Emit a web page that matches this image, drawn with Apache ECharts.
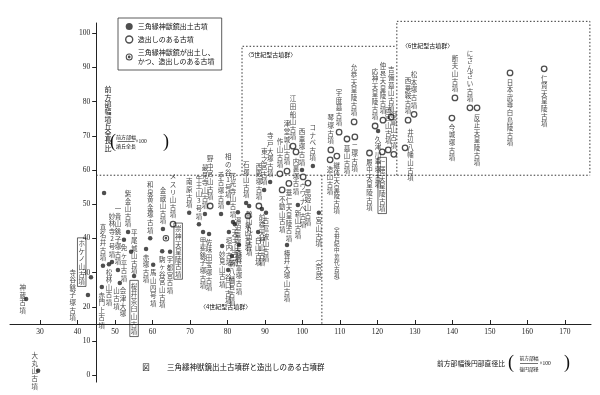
<!DOCTYPE html>
<html><head><meta charset="utf-8">
<script src="https://cdn.jsdelivr.net/npm/echarts@6/dist/echarts.min.js"></script>
<style>html,body{margin:0;padding:0;background:#fff}#c{width:600px;height:395px}</style>
</head><body><div id="c"></div>
<script>
// ---------- data ----------
const xTicks = [30,40,50,60,70,80,90,100,110,120,130,140,150,160,170];
const yTicks = [0,10,20,30,40,50,60,70,80,90,100];

// 三角縁神獣鏡出土古墳 (filled)
const mirrorNames = ['神蔵古墳','大丸山古墳','寺谷銚子塚古墳','ホケノ山古墳','','赤門上古墳','真名井古墳','松林山古墳','妙林寺2号墳','一貴山銚子塚古墳','会津大塚山古墳','免ヶ平古墳','紫金山古墳','平尾城山古墳','桜井茶臼山古墳','赤塚古墳','和泉黄金塚古墳','馬山四号墳','駒ヶ谷宮山古墳','金蔵山古墳','宇都宮古墳','南原古墳','午王山3号墳','甲斐銚子塚古墳','最見寺山古墳','佐味田宝塚古墳','手古塚古墳','妙見山古墳','相の谷1号墳','谷口古墳','垣内古墳','新八幡宮古墳','花光寺山古墳','天王山古墳','湯迫車塚古墳','森将軍塚古墳','石塚山古墳','鶴山丸山古墳','白山古墳','前橋天神山古墳','東之宮古墳','古富波山古墳','寺戸大塚古墳','椿井大塚山古墳','新山古墳','西車塚古墳','コナベ古墳','宮山古墳','久津川車塚古墳'];
const mirrorX = [26.3,29.5,42.8,43.6,47.1,46.5,46.8,48.4,49.2,50.8,51.3,52.4,53.5,54.3,55.1,58.3,59.4,60.2,62.6,62.8,64.7,69.8,72.4,73.5,74.0,75.1,78.3,78.6,80.2,80.2,80.4,81.2,81.5,82.0,82.8,83.1,85.0,85.8,88.2,89.2,89.8,90.3,91.4,95.9,98.8,99.9,102.8,104.4,120.2];
const mirrorY = [22.3,1.3,23.5,28.7,53.3,25.8,32.0,32.5,33.1,30.8,27.0,39.6,41.9,36.1,29.0,36.9,40.1,32.3,36.3,42.8,36.1,47.5,44.2,41.9,47.2,41.3,47.2,37.8,50.4,30.8,41.9,34.9,44.8,44.2,47.7,38.1,50.4,49.5,41.9,48.6,54.2,47.5,56.5,38.1,49.8,60.0,61.2,47.5,71.4];

// 造出しのある古墳 (hollow)
const platformNames = ['メスリ山古墳','野中宮山古墳','泉山古墳','西殿塚古墳','作山古墳','不動山古墳','津堂城山古墳','垂仁天皇陵古墳','江田船山古墳','内裏塚古墳','ウワナベ古墳','黒姫山古墳','造山古墳','琴塚古墳','継体天皇陵古墳','宇度墓古墳','墓山古墳','允恭天皇陵古墳','二塚古墳','履中天皇陵古墳','応神天皇陵古墳','仁徳天皇陵古墳','仲哀天皇陵古墳','両宮山古墳','御廟山古墳','吉備墓山古墳','井辺八幡山古墳','西乗鞍古墳','松本塚古墳','今城塚古墳','断夫山古墳','にさんざい古墳','反正天皇陵古墳','日本武尊白鳥陵古墳','仁賢天皇陵古墳'];
const platformX = [65.5,75.4,85.5,88.4,94.0,94.6,95.9,96.4,97.5,98.3,100.2,101.5,107.4,107.6,109.2,109.8,111.9,113.8,114.0,117.9,119.4,121.3,121.5,122.9,124.4,123.7,127.4,128.2,129.8,139.9,140.7,144.7,146.6,155.4,164.5];
const platformY = [44.2,49.5,46.6,49.5,58.9,54.2,59.7,56.1,67.0,65.3,58.0,56.2,63.0,65.9,64.1,71.1,69.1,74.1,69.7,65.0,72.9,65.3,74.6,65.9,64.6,75.5,66.5,74.6,76.3,75.2,81.1,78.2,78.2,88.4,89.6];

// 三角縁神獣鏡が出土し、かつ、造出しのある古墳
const bothNames = ['崇神天皇陵古墳'];
const bothX = [63.6];
const bothY = [40.1];

// dotted group boundaries
const era4TopLine = [[45,58.5],[176.7,58.5]];
const era4RightLine = [[105.2,58.5],[105.2,15]];
const era5Box = [[83.9,58.5],[83.9,96.2],[125.2,96.2]];
const era6Box = [[125.2,58.5],[125.2,103.5],[176.7,103.5],[176.7,58.5]];

const seriesNames = ['三角縁神獣鏡出土古墳','造出しのある古墳','三角縁神獣鏡が出土し、かつ、造出しのある古墳'];

// ---------- label layout ----------
const belowNames = ['赤門上古墳','松林山古墳','会津大塚山古墳','免ヶ平古墳','桜井茶臼山古墳','赤塚古墳','馬山四号墳','駒ヶ谷宮山古墳','宇都宮古墳','甲斐銚子塚古墳','佐味田宝塚古墳','妙見山古墳','谷口古墳','垣内古墳','新八幡宮古墳','天王山古墳','湯迫車塚古墳','森将軍塚古墳','鶴山丸山古墳','白山古墳','前橋天神山古墳','古富波山古墳','椿井大塚山古墳','新山古墳','宮山古墳','久津川車塚古墳','泉山古墳','不動山古墳','垂仁天皇陵古墳','内裏塚古墳','ウワナベ古墳','黒姫山古墳','造山古墳','継体天皇陵古墳','墓山古墳','二塚古墳','履中天皇陵古墳','仁徳天皇陵古墳','今城塚古墳','反正天皇陵古墳','日本武尊白鳥陵古墳','仁賢天皇陵古墳'];
const leftNames = ['神蔵古墳','大丸山古墳','寺谷銚子塚古墳','ホケノ山古墳'];
const rightNames = ['平尾城山古墳','崇神天皇陵古墳','井辺八幡山古墳'];
const boxedNames = ['ホケノ山古墳','桜井茶臼山古墳','崇神天皇陵古墳','仁徳天皇陵古墳'];
const labelTweak = {
  '寺谷銚子塚古墳': {distance: 13},
  'ホケノ山古墳': {distance: 7, offset: [0,-15]},
  '崇神天皇陵古墳': {distance: 9, offset: [0,13]},
  '井辺八幡山古墳': {offset: [0,7]},
  '平尾城山古墳': {distance: 1},
  '神蔵古墳': {distance: 1},
  '大丸山古墳': {distance: 1}
};

function vert(s){ return Array.from(s).join('\n'); }
const specialText = {
  '会津大塚山古墳': '山会\n古津\n墳大\n　塚',
  '宮山古墳': vert('宮山古墳') + '\n\n' + vert('︵奈良︶'),
  '継体天皇陵古墳': vert('継体天皇陵古墳') + '\n\n' + Array.from('︵五世紀中葉代古墳︶').map(c => '{n|' + c + '}').join('\n')
};

const CJK = '"Noto Sans CJK JP"';
const INK = '#111';
function labelFor(name){
  let pos = 'top';
  if (belowNames.includes(name)) pos = 'bottom';
  if (leftNames.includes(name)) pos = 'left';
  if (rightNames.includes(name)) pos = 'right';
  const l = {
    show: name !== '',
    position: pos,
    distance: 2,
    formatter: specialText[name] || vert(name),
    fontFamily: CJK, fontSize: 6.5, lineHeight: 7.6, color: INK, align: 'center',
    rich: { n: { fontFamily: CJK, fontSize: 5.6, lineHeight: 6.2, color: INK } }
  };
  if (boxedNames.includes(name)) Object.assign(l, {borderColor:'#111', borderWidth:0.8, padding:[2,1,1,1]});
  if (labelTweak[name]) Object.assign(l, labelTweak[name]);
  return l;
}
function items(names, xs, ys){
  return names.map((n,i) => ({ name: n, value: [xs[i], ys[i]], label: labelFor(n) }));
}

const bullseye = 'path://M0,10 A10,10 0 1,1 20,10 A10,10 0 1,1 0,10 Z M3,10 A7,7 0 1,0 17,10 A7,7 0 1,0 3,10 Z M6,10 A4,4 0 1,1 14,10 A4,4 0 1,1 6,10 Z';

function dotted(data){
  return { type:'line', xAxisIndex:0, yAxisIndex:0, data: data, symbol:'none', silent:true, clip:false,
    lineStyle:{ color:'#333', width:1, type:[1.5,2] }, z:1 };
}
function txt(x, y, text, size, family, align, extra){
  return { type:'text', x:x, y:y, style:Object.assign({ text:text, fontSize:size, fontFamily:family, fill:INK,
    textAlign:align || 'center', textVerticalAlign:'middle' }, extra || {}) };
}

const chart = echarts.init(document.getElementById('c'), null, {renderer:'canvas'});
chart.setOption({
  animation: false,
  backgroundColor: '#fff',
  grid: [
    { left: 10, right: 9, top: 16.2, bottom: 71 },
    { left: 96.2, width: 20, top: 23, bottom: 12.9 }
  ],
  xAxis: [
    { gridIndex:0, type:'value', min:22, max:177,
      axisLine:{ show:true, onZero:false, lineStyle:{ color:'#222', width:1 } },
      axisTick:{ show:true, inside:true, length:4, customValues:xTicks, lineStyle:{ color:'#222' } },
      axisLabel:{ show:true, customValues:xTicks, margin:4, fontFamily:'"Liberation Serif"', fontSize:7.5, color:'#222' },
      splitLine:{ show:false } },
    { gridIndex:1, type:'value', min:0, max:1, show:false }
  ],
  yAxis: [
    { gridIndex:0, type:'value', min:15, max:105, show:false },
    { gridIndex:1, type:'value', min:-2, max:103,
      axisLine:{ show:true, onZero:false, lineStyle:{ color:'#222', width:1 } },
      axisTick:{ show:true, length:4, customValues:yTicks, lineStyle:{ color:'#222' } },
      axisLabel:{ show:true, customValues:yTicks, margin:6, fontFamily:'"Liberation Serif"', fontSize:7.5, color:'#222' },
      splitLine:{ show:false } }
  ],
  legend: {
    orient:'vertical', left:118, top:18,
    padding:[4,7,4,7], itemGap:4, itemWidth:7, itemHeight:7,
    borderColor:'#333', borderWidth:0.8, backgroundColor:'#fff',
    textStyle:{ fontFamily:CJK, fontSize:7, lineHeight:9, color:INK },
    formatter: n => n === seriesNames[2] ? '三角縁神獣鏡が出土し、\nかつ、造出しのある古墳' : n,
    data: [
      { name: seriesNames[0], icon:'circle', itemStyle:{ color:'#222' } },
      { name: seriesNames[1], icon:'circle', itemStyle:{ color:'#fff', borderColor:'#222', borderWidth:1.4 } },
      { name: seriesNames[2], icon: bullseye, itemStyle:{ color:'#222' } }
    ]
  },
  series: [
    dotted(era4TopLine), dotted(era4RightLine), dotted(era5Box), dotted(era6Box),
    { name: seriesNames[1], type:'scatter', xAxisIndex:0, yAxisIndex:0, clip:false, symbol:'circle', symbolSize:5.5,
      itemStyle:{ color:'#fff', borderColor:'#222', borderWidth:1.3 }, data: items(platformNames, platformX, platformY), z:3 },
    { name: seriesNames[0], type:'scatter', xAxisIndex:0, yAxisIndex:0, clip:false, symbol:'circle', symbolSize:4.5,
      itemStyle:{ color:'#222' }, data: items(mirrorNames, mirrorX, mirrorY), z:4 },
    { name: seriesNames[2], type:'scatter', xAxisIndex:0, yAxisIndex:0, clip:false, symbol:bullseye, symbolSize:6.5,
      itemStyle:{ color:'#222' }, data: items(bothNames, bothX, bothY), z:5 }
  ],
  graphic: [
    // y-axis title (vertical)
    { type:'text', x:108, y:86, style:{ text: vert('前方部幅墳丘全長比'), fontSize:7, fontFamily:CJK, lineHeight:7.3, fill:INK, textAlign:'center', textVerticalAlign:'top' } },
    txt(113, 142, '(', 18, '"Liberation Serif"'),
    txt(126, 137, '前方部幅', 5, CJK),
    { type:'line', shape:{ x1:117.5, y1:141.5, x2:134.5, y2:141.5 }, style:{ stroke:INK, lineWidth:0.6 } },
    txt(126, 146, '墳丘全長', 5, CJK),
    txt(135.5, 142, '×100', 5.5, '"Liberation Serif"', 'left'),
    txt(166, 142, ')', 18, '"Liberation Serif"'),
    // x-axis title
    txt(471, 363, '前方部幅後円部直径比', 6.8, CJK),
    txt(511, 363, '(', 18, '"Liberation Serif"'),
    txt(529, 358, '前方部幅', 4.8, CJK),
    { type:'line', shape:{ x1:520, y1:363.5, x2:538, y2:363.5 }, style:{ stroke:INK, lineWidth:0.6 } },
    txt(529, 369, '後円部径', 4.8, CJK),
    txt(539.5, 364, '×100', 5.5, '"Liberation Serif"', 'left'),
    txt(567, 363, ')', 18, '"Liberation Serif"'),
    // caption
    txt(146, 367, '図', 7.5, CJK),
    txt(167, 367, '三角縁神獣鏡出土古墳群と造出しのある古墳群', 7.5, CJK, 'left'),
    // era labels
    txt(200, 307, '〈4世紀型古墳群〉', 6, CJK, 'left'),
    txt(245, 55, '〈5世紀型古墳群〉', 6, CJK, 'left'),
    txt(402, 46, '〈6世紀型古墳群〉', 6, CJK, 'left')
  ]
});
</script>
</body></html>
